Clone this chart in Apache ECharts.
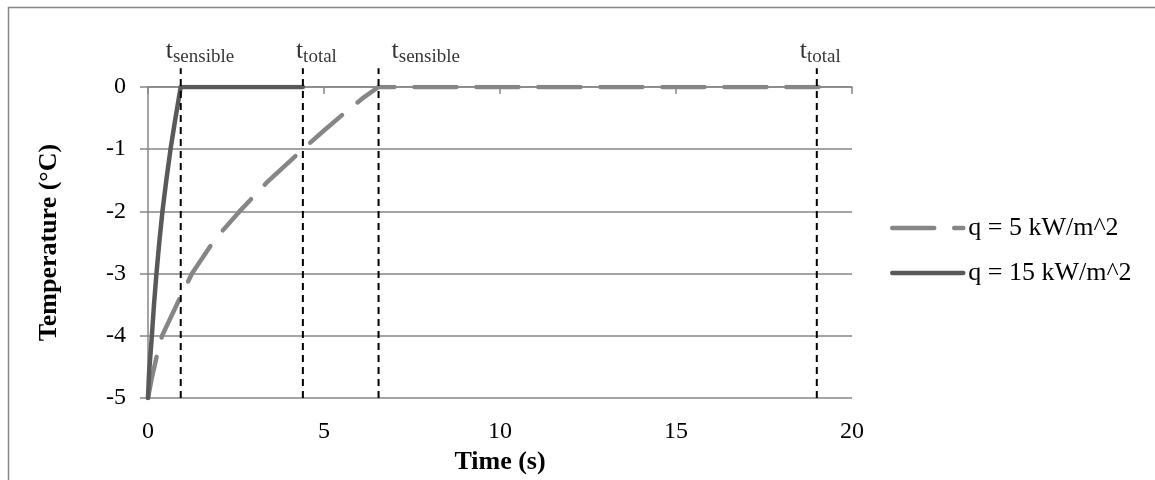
<!DOCTYPE html>
<html>
<head>
<meta charset="utf-8">
<script src="https://cdn.jsdelivr.net/npm/echarts@6/dist/echarts.min.js"></script>
<style>html,body{margin:0;padding:0;background:#fff}#c{width:1155px;height:480px}</style>
</head>
<body>
<div id="c"></div>
<script>
var xTicks = [0, 5, 10, 15, 20];
var yTicks = [-5, -4, -3, -2, -1, 0];
var seriesNames = ['q = 5 kW/m^2', 'q = 15 kW/m^2'];
var q5 = [[0,-5],[0.1,-4.7],[0.24,-4.35],[0.4,-4.0],[0.9,-3.4],[1.25,-3.0],[1.9,-2.45],[2.6,-2.0],[3.4,-1.52],[4.4,-1.0],[5.0,-0.7],[5.62,-0.40],[6.1,-0.18],[6.55,0],[19.05,0]];
var q15 = [[0,-5],[0.03,-4.6],[0.11,-4],[0.17,-3.5],[0.24,-3],[0.32,-2.5],[0.41,-2],[0.52,-1.5],[0.64,-1],[0.78,-0.5],[0.93,0],[4.4,0]];
var markerTimes = [0.93, 4.4, 6.55, 19.0];
var markerSubs = ['sensible', 'total', 'sensible', 'total'];
var markerRange = [-5, 0.3];
var labelOffsets = [[-15, 0], [-7, 0], [13, 0], [-17, 0]];

var FONT = 'Liberation Serif';
var dashPattern = [42, 20];
var series = [
  {
    name: seriesNames[0], type: 'line', data: q5, symbol: 'none', smooth: false,
    lineStyle: { color: '#868686', width: 4.5, type: dashPattern, cap: 'round', join: 'round' },
    itemStyle: { color: '#868686' }, z: 3
  },
  {
    name: seriesNames[1], type: 'line', data: q15, symbol: 'none', smooth: false,
    lineStyle: { color: '#595959', width: 4.5, cap: 'round', join: 'round' },
    itemStyle: { color: '#595959' }, z: 4
  }
];
markerTimes.forEach(function (t) {
  series.push({
    type: 'line', symbol: 'none', clip: false, silent: true, z: 5,
    lineStyle: { color: '#000', width: 2, type: [7, 5] },
    data: [[t, markerRange[0]], [t, markerRange[1]]]
  });
});
series.push({
  type: 'scatter', clip: false, silent: true, symbolSize: 0, z: 6,
  data: markerTimes.map(function (t, i) {
    return {
      value: [t, markerRange[1]],
      label: {
        show: true, position: 'top', align: 'left', offset: labelOffsets[i], distance: 2,
        formatter: '{t|t}{s|' + markerSubs[i] + '}',
        rich: {
          t: { fontFamily: FONT, fontSize: 26, color: '#000', lineHeight: 28, verticalAlign: 'top' },
          s: { fontFamily: FONT, fontSize: 19, color: '#000', lineHeight: 19, verticalAlign: 'bottom' }
        }
      }
    };
  })
});

var chart = echarts.init(document.getElementById('c'), null, { renderer: 'canvas' });
chart.setOption({
  animation: false,
  backgroundColor: '#fff',
  graphic: [{
    type: 'rect', shape: { x: 8.5, y: 7.5, width: 1300, height: 600 },
    style: { fill: 'none', stroke: '#868686', lineWidth: 1.5 }, silent: true
  }],
  grid: { left: 148, top: 87, width: 704, height: 311 },
  legend: {
    orient: 'vertical', left: 885, top: 210, itemWidth: 71, itemHeight: 20, itemGap: 19,
    data: [
      { name: seriesNames[0], itemStyle: { opacity: 0 }, lineStyle: { color: '#868686', width: 4.5, type: dashPattern, cap: 'round' } },
      { name: seriesNames[1], itemStyle: { opacity: 0 }, lineStyle: { color: '#595959', width: 4.5, cap: 'round' } }
    ],
    textStyle: { fontFamily: FONT, fontSize: 26, color: '#000' }
  },
  xAxis: {
    type: 'value', min: 0, max: 20, interval: 5,
    name: 'Time (s)', nameLocation: 'middle', nameGap: 47,
    nameTextStyle: { fontFamily: FONT, fontSize: 26, fontWeight: 'bold', color: '#000' },
    axisLine: { lineStyle: { color: '#868686', width: 1.5 } },
    axisTick: { show: true, length: 7, lineStyle: { color: '#868686', width: 1.5 } },
    axisLabel: { fontFamily: FONT, fontSize: 24, color: '#000', margin: 22,
      formatter: function (v) { return xTicks.indexOf(v) >= 0 ? String(v) : ''; } },
    splitLine: { show: false }
  },
  yAxis: {
    type: 'value', min: -5, max: 0, interval: 1,
    name: 'Temperature (°C)', nameLocation: 'middle', nameGap: 86, nameRotate: 90,
    nameTextStyle: { fontFamily: FONT, fontSize: 26, fontWeight: 'bold', color: '#000' },
    axisLine: { show: true, lineStyle: { color: '#868686', width: 1.5 } },
    axisTick: { show: true, length: 8, lineStyle: { color: '#868686', width: 1.5 } },
    axisLabel: { fontFamily: FONT, fontSize: 24, color: '#000', margin: 22,
      formatter: function (v) { return yTicks.indexOf(v) >= 0 ? String(v) : ''; } },
    splitLine: { show: true, lineStyle: { color: '#868686', width: 1.5 } }
  },
  series: series
});
</script>
</body>
</html>
